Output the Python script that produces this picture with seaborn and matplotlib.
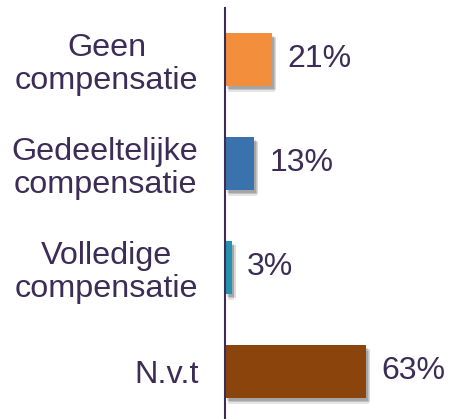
import matplotlib
matplotlib.use("Agg")
import matplotlib.pyplot as plt
import matplotlib.patheffects as pe
import seaborn as sns
import pandas as pd

categories = ["Geen\ncompensatie", "Gedeeltelijke\ncompensatie", "Volledige\ncompensatie", "N.v.t"]
values = [21, 13, 3, 63]
colors = ["#F28E3C", "#3A72AE", "#2493AE", "#8B440C"]

text_color = "#3B2D55"

sns.set_theme(style="white")
plt.rcParams["font.family"] = ["Liberation Sans", "DejaVu Sans"]

df = pd.DataFrame({"cat": categories, "val": values})

fig = plt.figure(figsize=(4.49, 4.19), dpi=100)
ax = fig.add_axes([0.501, 0.0, 0.499, 0.981])

sns.barplot(data=df, x="val", y="cat", hue="cat", palette=colors, legend=False,
            width=0.51, saturation=1, ax=ax)

# soft drop shadow under the bars
shadow = [
    pe.SimplePatchShadow(offset=(2, -4), shadow_rgbFace="#000000", alpha=0.10),
    pe.SimplePatchShadow(offset=(3, -3), shadow_rgbFace="#000000", alpha=0.15),
    pe.SimplePatchShadow(offset=(1.5, -2), shadow_rgbFace="#000000", alpha=0.15),
    pe.Normal(),
]
for p in ax.patches:
    p.set_linewidth(0)
    p.set_path_effects(shadow)

for cont in ax.containers:
    ax.bar_label(cont, fmt="%g%%", padding=11, fontsize=23, color=text_color)

ax.set_xlim(0, 100)
ax.set_ylim(3.457, -0.495)
ax.set_xlabel("")
ax.set_ylabel("")
ax.set_xticks([])
ax.tick_params(axis="y", length=0, pad=19, labelsize=23.3, labelcolor=text_color)
for t in ax.get_yticklabels():
    t.set_multialignment("center")
    t.set_linespacing(1.12)

for s in ["top", "right", "bottom"]:
    ax.spines[s].set_visible(False)
ax.spines["left"].set_color(text_color)
ax.spines["left"].set_linewidth(1.5)

fig.savefig("out.png", dpi=100)
